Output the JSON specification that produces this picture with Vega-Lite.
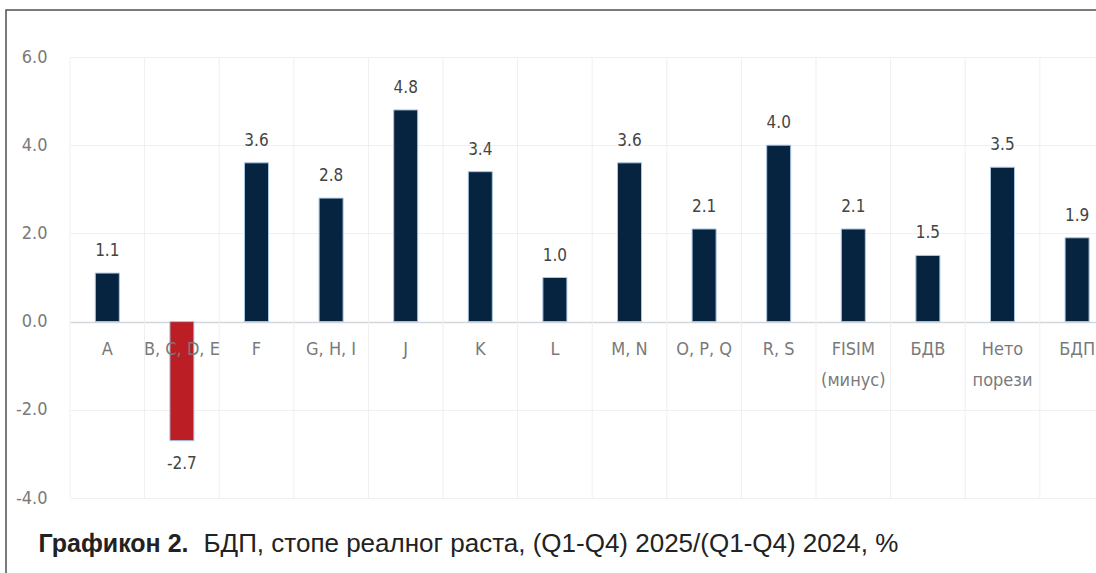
{
  "$schema": "https://vega.github.io/schema/vega-lite/v6.json",
  "width": 1090,
  "height": 563,
  "autosize": {"type": "none"},
  "padding": {"left": 6, "top": 10, "right": 0, "bottom": 0},
  "background": "white",
  "config": {"view": {"stroke": "#505050", "strokeWidth": 1.5, "strokeDash": [1090, 1653, 580]}},
  "data": {"values": [
    {"cat": "A", "lbl": "A", "v": 1.1, "neg": "no"},
    {"cat": "B, C, D, E", "lbl": "B, C, D, E", "v": -2.7, "neg": "yes"},
    {"cat": "F", "lbl": "F", "v": 3.6, "neg": "no"},
    {"cat": "G, H, I", "lbl": "G, H, I", "v": 2.8, "neg": "no"},
    {"cat": "J", "lbl": "J", "v": 4.8, "neg": "no"},
    {"cat": "K", "lbl": "K", "v": 3.4, "neg": "no"},
    {"cat": "L", "lbl": "L", "v": 1.0, "neg": "no"},
    {"cat": "M, N", "lbl": "M, N", "v": 3.6, "neg": "no"},
    {"cat": "O, P, Q", "lbl": "O, P, Q", "v": 2.1, "neg": "no"},
    {"cat": "R, S", "lbl": "R, S", "v": 4.0, "neg": "no"},
    {"cat": "FISIM (минус)", "lbl": "FISIM|(минус)", "v": 2.1, "neg": "no"},
    {"cat": "БДВ", "lbl": "БДВ", "v": 1.5, "neg": "no"},
    {"cat": "Нето порези", "lbl": "Нето|порези", "v": 3.5, "neg": "no"},
    {"cat": "БДП", "lbl": "БДП", "v": 1.9, "neg": "no"}
  ]},
  "encoding": {
    "x": {
      "field": "cat", "type": "nominal", "sort": null,
      "scale": {"range": [64, 1108.4], "paddingInner": 0, "paddingOuter": 0},
      "axis": {
        "labels": false, "ticks": false, "domain": false, "grid": false,
        "title": "БДП, стопе реалног раста, (Q1-Q4) 2025/(Q1-Q4) 2024, %",
        "titleX": 197, "titleY": -22, "titleAlign": "left", "titleAnchor": "start", "titleBaseline": "alphabetic",
        "titleFont": "Liberation Sans", "titleFontSize": 26, "titleFontWeight": "normal", "titleColor": "#222222"
      }
    }
  },
  "layer": [
    {
      "mark": {"type": "rule", "color": "#efefef", "strokeWidth": 1},
      "encoding": {
        "x": {"field": "cat", "type": "nominal", "sort": null, "bandPosition": 0},
        "y": {"datum": 6},
        "y2": {"datum": -4}
      }
    },
    {
      "mark": {"type": "bar", "width": 24, "stroke": "#a9c6e4", "strokeWidth": 1},
      "encoding": {
        "y": {
          "field": "v", "type": "quantitative",
          "scale": {"domain": [-4, 6], "nice": false, "zero": false, "range": [488, 47]},
          "axis": {
            "values": [-4, -2, 0, 2, 4, 6], "format": ".1f",
            "labelExpr": "replace(datum.label, '−', '-')",
            "offset": -64,
            "domain": false, "ticks": false, "labelPadding": 23,
            "labelFont": "DejaVu Sans Condensed, sans-serif",
            "labelFontSize": 18, "labelColor": "#7a7a7a",
            "grid": true,
            "gridColor": {"condition": {"test": "datum.value === 0", "value": "#d3d6da"}, "value": "#f0f0f0"},
            "gridWidth": {"condition": {"test": "datum.value === 0", "value": 1.5}, "value": 1},
            "title": "Графикон 2.", "titleAngle": 0, "titleX": -32, "titleY": 541,
            "titleAlign": "left", "titleAnchor": "start", "titleBaseline": "alphabetic",
            "titleFont": "Liberation Sans", "titleFontSize": 25, "titleFontWeight": "bold", "titleColor": "#222222"
          }
        },
        "color": {
          "field": "neg", "type": "nominal",
          "scale": {"domain": ["no", "yes"], "range": ["#062340", "#bb1f25"]},
          "legend": null
        }
      }
    },
    {
      "transform": [{"filter": "datum.v >= 0"}],
      "mark": {"type": "text", "baseline": "bottom", "dy": -13,
        "font": "DejaVu Sans Condensed, sans-serif", "fontSize": 17, "color": "#444444",
        "text": {"expr": "replace(format(datum.v, '.1f'), '−', '-')"}},
      "encoding": {
        "y": {"field": "v", "type": "quantitative"}
      }
    },
    {
      "transform": [{"filter": "datum.v < 0"}],
      "mark": {"type": "text", "baseline": "top", "dy": 15,
        "font": "DejaVu Sans Condensed, sans-serif", "fontSize": 17, "color": "#444444",
        "text": {"expr": "replace(format(datum.v, '.1f'), '−', '-')"}},
      "encoding": {
        "y": {"field": "v", "type": "quantitative"}
      }
    },
    {
      "mark": {"type": "text", "baseline": "top", "lineBreak": "|", "lineHeight": 31,
        "font": "DejaVu Sans Condensed, sans-serif", "fontSize": 18, "color": "#7a7a7a"},
      "encoding": {
        "y": {"datum": -0.45},
        "text": {"field": "lbl"}
      }
    }
  ]
}
